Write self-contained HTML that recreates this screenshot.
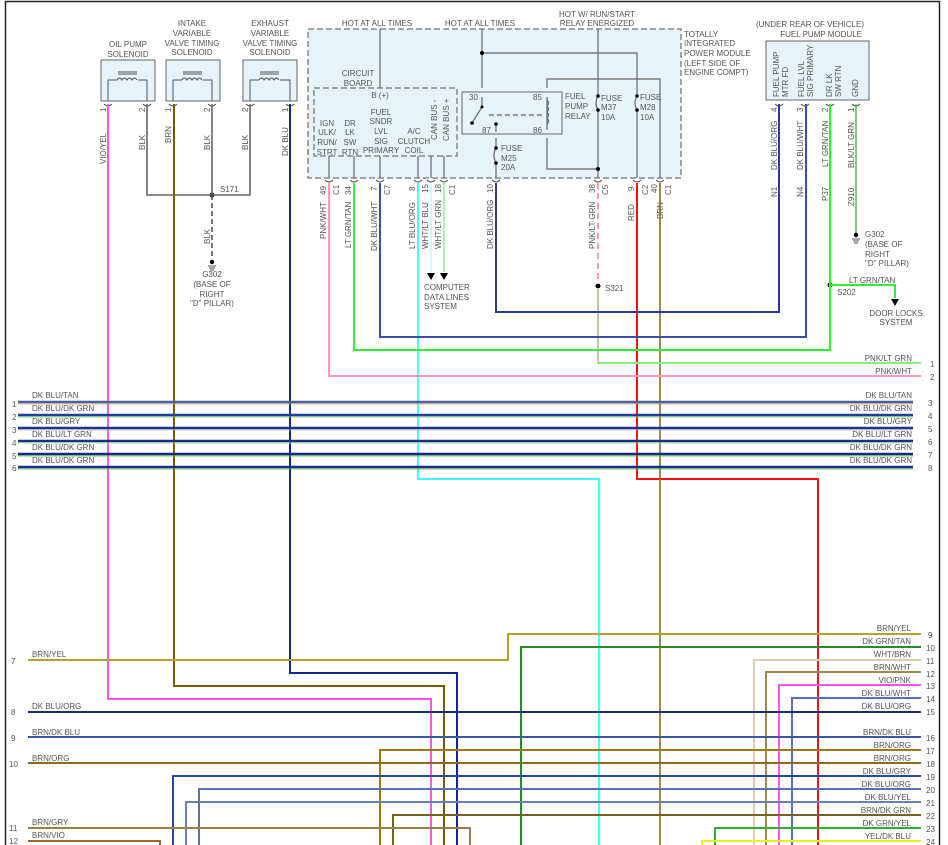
<!DOCTYPE html>
<html><head><meta charset="utf-8"><style>
html,body{margin:0;padding:0;background:#fff}
svg{display:block}
text{font-family:"Liberation Sans",sans-serif;font-size:8px;fill:#555}
</style></head><body>
<svg width="948" height="845" viewBox="0 0 948 845" xmlns="http://www.w3.org/2000/svg">
<rect x="5.5" y="1.5" width="934" height="850" fill="none" stroke="#222" stroke-width="1.5"/>

<!-- TIPM box -->
<rect x="308" y="29" width="373" height="149" fill="#e6f3fa" stroke="#888" stroke-width="1.5" stroke-dasharray="6,3"/>
<rect x="314" y="88" width="143" height="68" fill="#e6f3fa" stroke="#888" stroke-width="1.5" stroke-dasharray="6,3"/>
<rect x="462" y="92" width="100" height="42" fill="#e6f3fa" stroke="#666" stroke-width="1"/>

<!-- solenoid boxes -->
<g fill="#e6f3fa" stroke="#666" stroke-width="1">
<rect x="101" y="60" width="54" height="41"/>
<rect x="166" y="60" width="54" height="41"/>
<rect x="243" y="60" width="54" height="41"/>
<rect x="766" y="41" width="103" height="59"/>
</g>
<g fill="none" stroke="#555" stroke-width="1">
<path d="M108 101V80H117M138 80H147V101"/><path d="M117 80q2.5-4 5 0q2.5-4 5 0q2.5-4 5 0q2.5-4 5 0"/><path d="M118 74H137M118 72H137"/>
<path d="M173 101V80H182M203 80H212V101"/><path d="M182 80q2.5-4 5 0q2.5-4 5 0q2.5-4 5 0q2.5-4 5 0"/><path d="M183 74H202M183 72H202"/>
<path d="M250 101V80H259M280 80H290V101"/><path d="M259 80q2.5-4 5 0q2.5-4 5 0q2.5-4 5 0q2.5-4 5 0"/><path d="M260 74H279M260 72H279"/>
</g>

<text x="128" y="47" text-anchor="middle">OIL PUMP</text><text x="128" y="57" text-anchor="middle">SOLENOID</text>
<text x="192" y="26" text-anchor="middle">INTAKE</text><text x="192" y="36" text-anchor="middle">VARIABLE</text><text x="192" y="46" text-anchor="middle">VALVE TIMING</text><text x="192" y="55" text-anchor="middle">SOLENOID</text>
<text x="270" y="26" text-anchor="middle">EXHAUST</text><text x="270" y="36" text-anchor="middle">VARIABLE</text><text x="270" y="46" text-anchor="middle">VALVE TIMING</text><text x="270" y="55" text-anchor="middle">SOLENOID</text>

<!-- TIPM text -->
<text x="377" y="26" text-anchor="middle">HOT AT ALL TIMES</text>
<text x="480" y="26" text-anchor="middle">HOT AT ALL TIMES</text>
<text x="597" y="17" text-anchor="middle">HOT W/ RUN/START</text>
<text x="597" y="26" text-anchor="middle">RELAY ENERGIZED</text>
<text x="684" y="37">TOTALLY</text><text x="684" y="46">INTEGRATED</text><text x="684" y="56">POWER MODULE</text><text x="684" y="66">(LEFT SIDE OF</text><text x="684" y="75">ENGINE COMPT)</text>
<text x="358" y="76" text-anchor="middle">CIRCUIT</text><text x="358" y="86" text-anchor="middle">BOARD</text>
<text x="380" y="98" text-anchor="middle">B (+)</text>
<text x="327" y="126" text-anchor="middle">IGN</text><text x="327" y="135" text-anchor="middle">ULK/</text><text x="327" y="145" text-anchor="middle">RUN/</text><text x="327" y="155" text-anchor="middle">STRT</text>
<text x="350" y="126" text-anchor="middle">DR</text><text x="350" y="135" text-anchor="middle">LK</text><text x="350" y="145" text-anchor="middle">SW</text><text x="350" y="155" text-anchor="middle">RTN</text>
<text x="381" y="115" text-anchor="middle">FUEL</text><text x="381" y="124" text-anchor="middle">SNDR</text><text x="381" y="134" text-anchor="middle">LVL</text><text x="381" y="144" text-anchor="middle">SIG</text><text x="381" y="153" text-anchor="middle">PRIMARY</text>
<text x="414" y="134" text-anchor="middle">A/C</text><text x="414" y="144" text-anchor="middle">CLUTCH</text><text x="414" y="153" text-anchor="middle">COIL</text>
<text transform="translate(437,140) rotate(-90)">CAN BUS -</text>
<text transform="translate(449,141) rotate(-90)">CAN BUS +</text>
<text x="469" y="100">30</text><text x="533" y="100">85</text><text x="482" y="133">87</text><text x="533" y="133">86</text>
<text x="565" y="99">FUEL</text><text x="565" y="109">PUMP</text><text x="565" y="119">RELAY</text>
<text x="601" y="101">FUSE</text><text x="601" y="110">M37</text><text x="601" y="120">10A</text>
<text x="640" y="100">FUSE</text><text x="640" y="110">M28</text><text x="640" y="120">10A</text>
<text x="501" y="151">FUSE</text><text x="501" y="161">M25</text><text x="501" y="170">20A</text>

<!-- TIPM internal wiring -->
<g fill="none" stroke="#666" stroke-width="1.2">
<path d="M380 29V88"/><path d="M482 29V88M482 53H637V96M637 110V178"/>
<path d="M547 88V79H660V178"/><path d="M598 29V96M598 110V178"/>
<path d="M547 138V169H598"/><path d="M496 138V148M496 163V178"/>
<path d="M482 97V107L472 123"/><path d="M489 115H545" stroke-dasharray="5,3"/>
<path d="M547 97V130" /><path d="M547 100q3 3 0 6q3 3 0 6q3 3 0 6q3 3 0 6"/>
<path d="M598 96q-4 7 0 14"/><path d="M637 96q-4 7 0 14"/><path d="M496 148q-4 7 0 15"/>
<path d="M496 124V132"/>
<path d="M329 156V178M354 156V178M380 156V178M418 156V178M431 156V178M444 156V178"/>
</g>
<g fill="#000">
<circle cx="482" cy="53" r="2"/><circle cx="472" cy="123" r="1.8"/><circle cx="482" cy="107" r="1.5"/><circle cx="496" cy="124" r="1.8"/>
<circle cx="598" cy="96" r="1.8"/><circle cx="598" cy="110" r="1.8"/><circle cx="637" cy="96" r="1.8"/><circle cx="637" cy="110" r="1.8"/>
<circle cx="496" cy="148" r="1.8"/><circle cx="496" cy="163" r="1.8"/><circle cx="598" cy="169" r="2"/>
<circle cx="212" cy="195" r="2.5"/><circle cx="598" cy="286" r="2.5"/><circle cx="830" cy="285" r="2.5"/>
</g>

<!-- connector marks -->
<g fill="none" stroke="#555" stroke-width="1">
<path d="M104 104q4 4 8 0M143 104q4 4 8 0M169 104q4 4 8 0M208 104q4 4 8 0M246 104q4 4 8 0M286 104q4 4 8 0"/>
<path d="M325 180q4 4 8 0M350 180q4 4 8 0M376 180q4 4 8 0M414 180q4 4 8 0M427 180q4 4 8 0M440 180q4 4 8 0M492 180q4 4 8 0M594 180q4 4 8 0M633 180q4 4 8 0M656 180q4 4 8 0"/>
<path d="M775 104q4 4 8 0M801 104q4 4 8 0M826 104q4 4 8 0M852 104q4 4 8 0"/>
</g>

<!-- pin numbers -->
<g>
<text transform="translate(106,112) rotate(-90)">1</text><text transform="translate(145,112) rotate(-90)">2</text>
<text transform="translate(171,112) rotate(-90)">1</text><text transform="translate(210,112) rotate(-90)">2</text>
<text transform="translate(248,112) rotate(-90)">2</text><text transform="translate(288,112) rotate(-90)">1</text>
<text transform="translate(326,195) rotate(-90)">49</text><text transform="translate(339,195) rotate(-90)">C1</text>
<text transform="translate(351,195) rotate(-90)">34</text>
<text transform="translate(377,191) rotate(-90)">7</text><text transform="translate(390,195) rotate(-90)">C7</text>
<text transform="translate(415,191) rotate(-90)">8</text><text transform="translate(428,193) rotate(-90)">15</text><text transform="translate(441,193) rotate(-90)">18</text><text transform="translate(455,195) rotate(-90)">C1</text>
<text transform="translate(493,193) rotate(-90)">10</text>
<text transform="translate(595,193) rotate(-90)">38</text><text transform="translate(608,195) rotate(-90)">C5</text>
<text transform="translate(634,191) rotate(-90)">9</text><text transform="translate(648,195) rotate(-90)">C2</text>
<text transform="translate(657,193) rotate(-90)">40</text><text transform="translate(671,195) rotate(-90)">C1</text>
<text transform="translate(777,112) rotate(-90)">4</text><text transform="translate(803,112) rotate(-90)">3</text><text transform="translate(828,112) rotate(-90)">2</text><text transform="translate(854,112) rotate(-90)">1</text>
<text transform="translate(777,197) rotate(-90)">N1</text><text transform="translate(803,197) rotate(-90)">N4</text><text transform="translate(828,201) rotate(-90)">P37</text><text transform="translate(854,206) rotate(-90)">Z910</text>
</g>

<!-- fuel pump module -->
<text x="810" y="27" text-anchor="middle">(UNDER REAR OF VEHICLE)</text>
<text x="862" y="37" text-anchor="end">FUEL PUMP MODULE</text>
<text transform="translate(779,97) rotate(-90)">FUEL PUMP</text><text transform="translate(788,97) rotate(-90)">MTR FD</text>
<text transform="translate(804,97) rotate(-90)">FUEL LVL</text><text transform="translate(813,97) rotate(-90)">SIG PRIMARY</text>
<text transform="translate(832,97) rotate(-90)">DR LK</text><text transform="translate(841,97) rotate(-90)">SW RTN</text>
<text transform="translate(858,97) rotate(-90)">GND</text>

<!-- wire labels upper -->
<g>
<text transform="translate(106,164) rotate(-90)">VIO/YEL</text>
<text transform="translate(145,150) rotate(-90)">BLK</text>
<text transform="translate(171,143) rotate(-90)">BRN</text>
<text transform="translate(210,150) rotate(-90)">BLK</text>
<text transform="translate(248,150) rotate(-90)">BLK</text>
<text transform="translate(288,156) rotate(-90)">DK BLU</text>
<text transform="translate(210,244) rotate(-90)">BLK</text>
<text transform="translate(326,239) rotate(-90)">PNK/WHT</text>
<text transform="translate(351,248) rotate(-90)">LT GRN/TAN</text>
<text transform="translate(377,251) rotate(-90)">DK BLU/WHT</text>
<text transform="translate(415,249) rotate(-90)">LT BLU/ORG</text>
<text transform="translate(428,249) rotate(-90)">WHT/LT BLU</text>
<text transform="translate(441,249) rotate(-90)">WHT/LT GRN</text>
<text transform="translate(493,249) rotate(-90)">DK BLU/ORG</text>
<text transform="translate(595,249) rotate(-90)">PNK/LT GRN</text>
<text transform="translate(634,221) rotate(-90)">RED</text>
<text transform="translate(663,219) rotate(-90)">BRN</text>
<text transform="translate(777,170) rotate(-90)">DK BLU/ORG</text>
<text transform="translate(803,170) rotate(-90)">DK BLU/WHT</text>
<text transform="translate(828,167) rotate(-90)">LT GRN/TAN</text>
<text transform="translate(854,168) rotate(-90)">BLK/LT GRN</text>
</g>
<text x="220" y="192">S171</text>
<text x="605" y="291">S321</text>
<text x="837" y="295">S202</text>
<text x="849" y="283">LT GRN/TAN</text>
<text x="212" y="277" text-anchor="middle">G302</text><text x="212" y="287" text-anchor="middle">(BASE OF</text><text x="212" y="297" text-anchor="middle">RIGHT</text><text x="212" y="306" text-anchor="middle">"D" PILLAR)</text>
<text x="865" y="237">G302</text><text x="865" y="247">(BASE OF</text><text x="865" y="257">RIGHT</text><text x="865" y="266">"D" PILLAR)</text>
<text x="424" y="290">COMPUTER</text><text x="424" y="300">DATA LINES</text><text x="424" y="309">SYSTEM</text>
<text x="896" y="316" text-anchor="middle">DOOR LOCKS</text><text x="896" y="325" text-anchor="middle">SYSTEM</text>

<!-- grounds & arrows -->
<g fill="none" stroke="#555" stroke-width="1"><path d="M208 266H216M209 268H215M210 270H214"/><path d="M852 239H860M853 241H859M854 243H858"/></g>
<circle cx="212" cy="262" r="2.2" fill="#000"/><circle cx="856" cy="235" r="2.2" fill="#000"/>
<path d="M427 273h8l-4 7z M440 273h8l-4 7z M891 299h8l-4 7z" fill="#000"/>

<!-- upper wires -->
<g fill="none" stroke-width="1.6">
<path d="M147 104V195H250V104M212 104V195" stroke="#666"/>
<path d="M212 195V258" stroke="#555" stroke-dasharray="5,3"/>
<path d="M856 104V233" stroke="#4b4" stroke-width="1.4"/>
<path d="M418 183V479H599V845" stroke="#4ff" stroke-width="2"/>
<path d="M431 183V272" stroke="#bff"/><path d="M444 183V272" stroke="#9e9"/>
<path d="M637 183V479H818V845" stroke="#f11" stroke-width="2"/>
<path d="M660 183V845" stroke="#8a6a20" stroke-width="1.6"/>
<path d="M329 183V376H921" stroke="#f9b" stroke-width="2"/>
<path d="M598 183V284" stroke="#f9b" stroke-dasharray="6,4" stroke-width="2"/>
<path d="M598 288V363H921" stroke="#8e8" stroke-width="2"/>
<path d="M598 288V363" stroke="#f9b" stroke-width="0.8"/>
<path d="M354 183V350H830V104M830 285H895V298" stroke="#3e3" stroke-width="2"/>
<path d="M380 183V337H806V104" stroke="#3a4fa8" stroke-width="2"/>
<path d="M496 183V312H779V104" stroke="#2a3aa0" stroke-width="2"/>
<path d="M108 104V699H431V845" stroke="#f5e" stroke-width="2"/>
<path d="M174 104V686H444V845" stroke="#7a5a00" stroke-width="2"/>
<path d="M290 104V673H457V845" stroke="#12288e" stroke-width="2"/>
</g>
<text x="912" y="361" text-anchor="end">PNK/LT GRN</text><text x="930" y="367">1</text>
<text x="912" y="374" text-anchor="end">PNK/WHT</text><text x="930" y="380">2</text>

<!-- bus 1-6 -->
<g fill="none" stroke-width="2.4">
<path d="M18 402H913" stroke="#4a5fa0"/><path d="M18 415H913" stroke="#22409a"/><path d="M18 428H913" stroke="#1e3590"/>
<path d="M18 441H913" stroke="#1a3080"/><path d="M18 454H913" stroke="#152a80"/><path d="M18 467H913" stroke="#1a2f8a"/>
</g>
<g fill="none" stroke-width="0.8">
<path d="M18 404H913" stroke="#c9a060"/><path d="M18 417H913" stroke="#6c6"/><path d="M18 430H913" stroke="#bbb"/><path d="M18 443H913" stroke="#9e9"/><path d="M18 456H913" stroke="#4b4"/><path d="M18 469H913" stroke="#4b4"/>
</g>
<g>
<text x="32" y="398">DK BLU/TAN</text><text x="32" y="411">DK BLU/DK GRN</text><text x="32" y="424">DK BLU/GRY</text><text x="32" y="437">DK BLU/LT GRN</text><text x="32" y="450">DK BLU/DK GRN</text><text x="32" y="463">DK BLU/DK GRN</text>
<text x="12" y="407">1</text><text x="12" y="420">2</text><text x="12" y="433">3</text><text x="12" y="446">4</text><text x="12" y="459">5</text><text x="12" y="471">6</text>
<text x="912" y="398" text-anchor="end">DK BLU/TAN</text><text x="912" y="411" text-anchor="end">DK BLU/DK GRN</text><text x="912" y="424" text-anchor="end">DK BLU/GRY</text><text x="912" y="437" text-anchor="end">DK BLU/LT GRN</text><text x="912" y="450" text-anchor="end">DK BLU/DK GRN</text><text x="912" y="463" text-anchor="end">DK BLU/DK GRN</text>
<text x="928" y="406">3</text><text x="928" y="419">4</text><text x="928" y="432">5</text><text x="928" y="445">6</text><text x="928" y="458">7</text><text x="928" y="471">8</text>
</g>

<!-- lower wires -->
<g fill="none" stroke-width="2">
<path d="M28 660H508V634H921" stroke="#b8a030"/>
<path d="M521 845V647H921" stroke="#2a8a2a"/>
<path d="M754 845V660H921" stroke="#d8d0b0"/>
<path d="M766 845V672H921" stroke="#a08850"/>
<path d="M779 845V685H921" stroke="#f5e"/>
<path d="M792 845V698H921" stroke="#5870c0"/>
<path d="M28 712H921" stroke="#1a2f7a"/>
<path d="M28 737H921" stroke="#3a5aa0"/>
<path d="M380 845V750H921" stroke="#a07a10"/>
<path d="M28 763H921" stroke="#8a6a20"/>
<path d="M173 845V776H921" stroke="#2a48a0"/>
<path d="M199 845V789H921" stroke="#5a70b0"/>
<path d="M186 845V802H921" stroke="#6a80b0"/>
<path d="M393 845V815H921" stroke="#7a6020"/>
<path d="M28 828H470V845" stroke="#9a8050"/>
<path d="M715 845V828H921" stroke="#3a3"/>
<path d="M28 841H160V845" stroke="#9a6a30"/>
<path d="M702 845V841H921" stroke="#ee2"/>
</g>
<g>
<text x="32" y="657">BRN/YEL</text><text x="32" y="709">DK BLU/ORG</text><text x="32" y="735">BRN/DK BLU</text><text x="32" y="761">BRN/ORG</text><text x="32" y="825">BRN/GRY</text><text x="32" y="838">BRN/VIO</text>
<text x="11" y="664">7</text><text x="11" y="715">8</text><text x="11" y="741">9</text><text x="9" y="767">10</text><text x="9" y="831">11</text><text x="9" y="844">12</text>
<text x="911" y="631" text-anchor="end">BRN/YEL</text><text x="911" y="644" text-anchor="end">DK GRN/TAN</text><text x="911" y="657" text-anchor="end">WHT/BRN</text><text x="911" y="670" text-anchor="end">BRN/WHT</text><text x="911" y="683" text-anchor="end">VIO/PNK</text><text x="911" y="696" text-anchor="end">DK BLU/WHT</text><text x="911" y="709" text-anchor="end">DK BLU/ORG</text>
<text x="911" y="735" text-anchor="end">BRN/DK BLU</text><text x="911" y="748" text-anchor="end">BRN/ORG</text><text x="911" y="761" text-anchor="end">BRN/ORG</text><text x="911" y="774" text-anchor="end">DK BLU/GRY</text><text x="911" y="787" text-anchor="end">DK BLU/ORG</text><text x="911" y="800" text-anchor="end">DK BLU/YEL</text><text x="911" y="813" text-anchor="end">BRN/DK GRN</text><text x="911" y="826" text-anchor="end">DK GRN/YEL</text><text x="911" y="839" text-anchor="end">YEL/DK BLU</text>
<text x="928" y="638">9</text><text x="926" y="651">10</text><text x="926" y="664">11</text><text x="926" y="677">12</text><text x="926" y="689">13</text><text x="926" y="702">14</text><text x="926" y="715">15</text>
<text x="926" y="741">16</text><text x="926" y="754">17</text><text x="926" y="767">18</text><text x="926" y="780">19</text><text x="926" y="793">20</text><text x="926" y="806">21</text><text x="926" y="819">22</text><text x="926" y="832">23</text><text x="926" y="845">24</text>
</g>
</svg>
</body></html>
